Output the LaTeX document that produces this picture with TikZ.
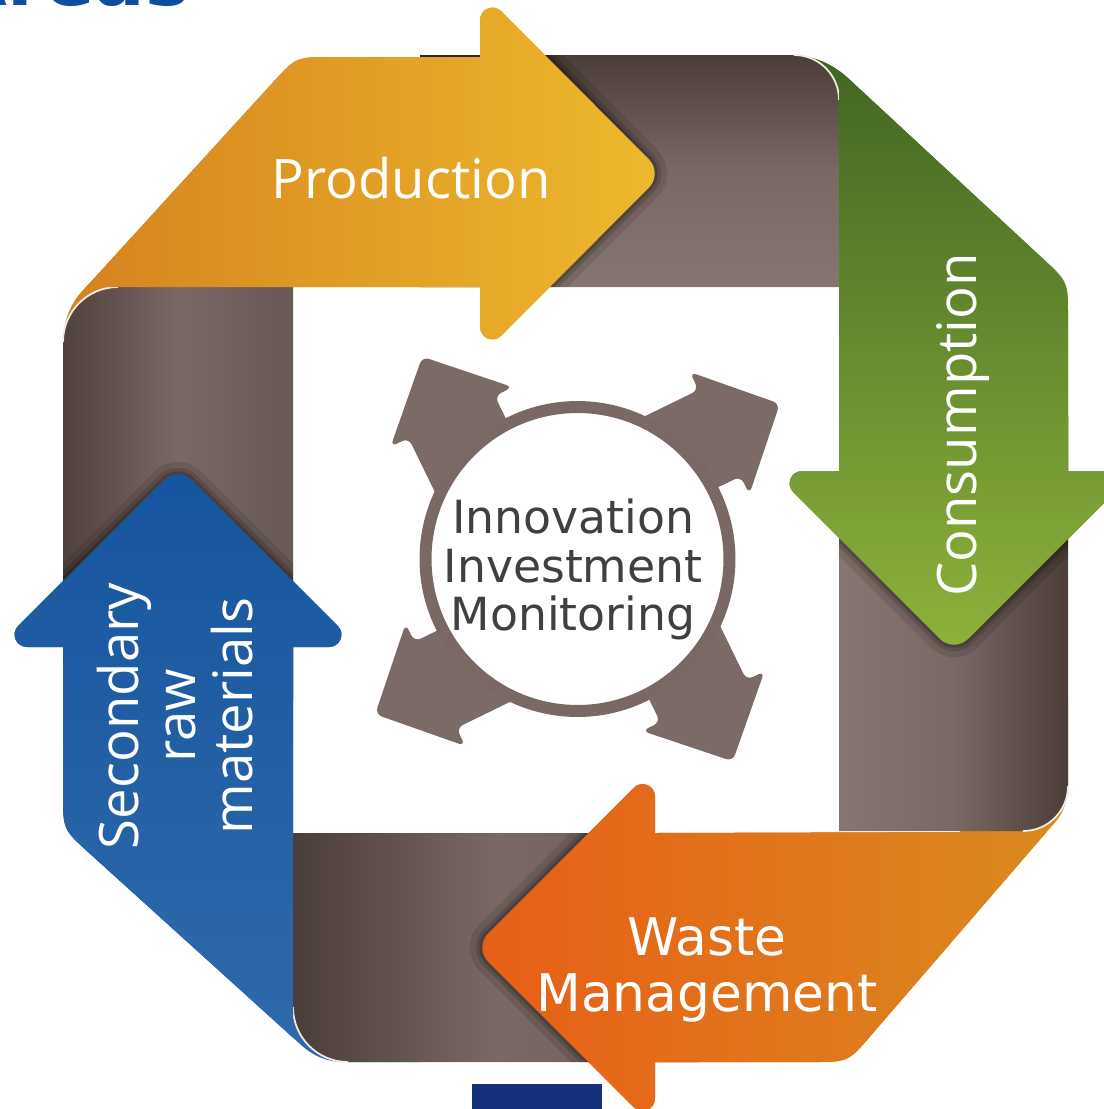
\documentclass[tikz,border=0pt]{standalone}
\usepackage{fontspec}
\newfontfamily\osans{Open Sans}
\newfontfamily\dvsans{DejaVu Sans}
\usetikzlibrary{calc}
\definecolor{brD}{HTML}{4B3D38}
\definecolor{brM}{HTML}{7A6864}
\definecolor{brL}{HTML}{877571}
\definecolor{hubcol}{HTML}{7C6A67}
\definecolor{ringcol}{HTML}{7A6865}
\definecolor{txtgray}{HTML}{404040}
\definecolor{headblue}{HTML}{0D4F9F}
\definecolor{footblue}{HTML}{15307A}
\definecolor{hilite}{HTML}{F2ECE6}
\definecolor{prL}{HTML}{D5821E}
\definecolor{prR}{HTML}{EDB92C}
\definecolor{grTop}{HTML}{426524}
\definecolor{grBot}{HTML}{8DB23A}
\definecolor{orL}{HTML}{E85E17}
\definecolor{orR}{HTML}{D98B1F}
\definecolor{blTop}{HTML}{16559F}
\definecolor{blBot}{HTML}{2F6AAA}
\def\bandT{(420,287) -- (420,55) -- (794,55) .. controls (818.9,55) and (839,75.1) .. (839,100) -- (839,287) -- cycle}
\def\bandR{(839,415) -- (1068,415) -- (1068,786) .. controls (1068,810.9) and (1047.9,831) .. (1023,831) -- (839,831) -- cycle}
\def\bandB{(700,833) -- (700,1062) -- (348,1062) .. controls (317.6,1062) and (293,1037.4) .. (293,1007) -- (293,833) -- cycle}
\def\bandL{(293,700) -- (63,700) -- (63,342) .. controls (63,311.6) and (87.6,287) .. (118,287) -- (293,287) -- cycle}
\def\pathProd{(63,345) .. controls (63,318) and (72,300) .. (88,285) -- (272.4,82.9) .. controls (296,57) .. (331,57) -- (480,57)
 -- (480,20) .. controls ($(480,20)!0.37!(480,-10)$) and ($(501.2,11.2)!0.37!(480,-10)$) .. (501.2,11.2)
 -- (648.9,159.3) .. controls ($(648.9,159.3)!0.55!(663,173.5)$) and ($(648.9,187.7)!0.55!(663,173.5)$) .. (648.9,187.7)
 -- (501.2,335.8) .. controls ($(501.2,335.8)!0.37!(480,357)$) and ($(480,327)!0.37!(480,357)$) .. (480,327)
 -- (480,287) -- (200,287) -- (200,420) -- (63,420) -- cycle}
\def\pathCons{(788,55) .. controls (818,55) and (835,66) .. (850,80) -- (1042.3,258.1) .. controls (1068,281.9) .. (1068,316.9) -- (1068,471)
 -- (1106,471) .. controls ($(1106,471)!0.37!(1136,471)$) and ($(1114.8,492.2)!0.37!(1136,471)$) .. (1114.8,492.2)
 -- (968.1,638.9) .. controls ($(968.1,638.9)!0.55!(954,653)$) and ($(939.9,638.9)!0.55!(954,653)$) .. (939.9,638.9)
 -- (793.2,492.2) .. controls ($(793.2,492.2)!0.37!(772,471)$) and ($(802,471)!0.37!(772,471)$) .. (802,471)
 -- (839,471) -- (839,250) -- (760,250) -- (760,55) -- cycle}
\def\pathWaste{(655,833)
 -- (655,796.5) .. controls ($(655,796.5)!0.37!(655,766.5)$) and ($(633.8,787.7)!0.37!(655,766.5)$) .. (633.8,787.7)
 -- (488.1,933.4) .. controls ($(488.1,933.4)!0.55!(474,947.5)$) and ($(488.1,961.6)!0.55!(474,947.5)$) .. (488.1,961.6)
 -- (633.8,1107.3) .. controls ($(633.8,1107.3)!0.37!(655,1128.5)$) and ($(655,1098.5)!0.37!(655,1128.5)$) .. (655,1098.5)
 -- (655,1062) -- (813,1062) .. controls (848,1062) .. (870.9,1035.5) -- (1050,828) .. controls (1066,812) and (1069,798) .. (1068,770) -- (1068,700) -- (960,700) -- (960,832) -- cycle}
\def\pathSec{(293,647)
 -- (329,647) .. controls ($(329,647)!0.37!(359,647)$) and ($(337.8,625.8)!0.37!(359,647)$) .. (337.8,625.8)
 -- (192.1,480.1) .. controls ($(192.1,480.1)!0.55!(178,466)$) and ($(163.9,480.1)!0.55!(178,466)$) .. (163.9,480.1)
 -- (18.2,625.8) .. controls ($(18.2,625.8)!0.37!(-3,647)$) and ($(27,647)!0.37!(-3,647)$) .. (27,647)
 -- (63,647) -- (63,794.3) .. controls (63,829.3) .. (88.9,852.8) -- (300,1044) .. controls (312,1055) and (325,1062) .. (345,1062) -- (420,1062) -- (420,950) -- (293,950) -- cycle}
\begin{document}
\begin{tikzpicture}[x=0.02cm,y=-0.02cm,
  fprod/.style={left color=prL,right color=prR},
  fcons/.style={top color=grTop,bottom color=grBot},
  fwaste/.style={left color=orL,right color=orR},
  fsec/.style={top color=blTop,bottom color=blBot},
  shdA/.style={draw=black,opacity=0.10,line width=0.5cm},
  shdB/.style={draw=black,opacity=0.14,line width=0.26cm},
  shdC/.style={draw=black,opacity=0.18,line width=0.12cm},
  hilight/.style={draw=hilite,line width=0.035cm},
  hubarrow/.style={fill=hubcol,rounded corners=0.14cm},
  lbl/.style={text=white,inner sep=0pt},
]
\useasboundingbox (0,0) rectangle (1104,1109);
\clip (0,0) rectangle (1104,1109);
% ---- colored arrows, full (their folds stay under the bands)
\shade[fprod] \pathProd;
\shade[fcons] \pathCons;
\shade[fwaste] \pathWaste;
\shade[fsec] \pathSec;
% ---- brown bands
\shade[top color=brD,bottom color=brL,middle color=brM] \bandT;
\shade[left color=brL,right color=brD,middle color=brM] \bandR;
\shade[left color=brD,right color=brM!90!black,middle color=brM] \bandB;
\shade[left color=brD!90!brM,right color=brM!85!black,middle color=brM] \bandL;
% ---- fold highlights
\draw[hilight] (794,55) .. controls (818.9,55) and (839,75.1) .. (839,100);
\draw[hilight] (1068,786) .. controls (1068,810.9) and (1047.9,831) .. (1023,831);
\draw[hilight] (348,1062) .. controls (317.6,1062) and (293,1037.4) .. (293,1007);
\draw[hilight] (63,342) .. controls (63,311.6) and (87.6,287) .. (118,287);
% ---- shadows of the heads on the bands
\begin{scope}\clip \bandT; \draw[shdA] \pathProd; \draw[shdB] \pathProd; \draw[shdC] \pathProd; \end{scope}
\begin{scope}\clip \bandR; \draw[shdA] \pathCons; \draw[shdB] \pathCons; \draw[shdC] \pathCons; \end{scope}
\begin{scope}\clip \bandB; \draw[shdA] \pathWaste; \draw[shdB] \pathWaste; \draw[shdC] \pathWaste; \end{scope}
\begin{scope}\clip \bandL; \draw[shdA] \pathSec; \draw[shdB] \pathSec; \draw[shdC] \pathSec; \end{scope}
% ---- colored arrows again, above the bands they point into
\begin{scope}\clip (293,287) -- (-50,287) -- (-50,-50) -- (1200,-50) -- (1200,1200) -- (293,1200) -- cycle;
\shade[fprod] \pathProd; \end{scope}
\begin{scope}\clip (839,287) -- (839,-50) -- (1200,-50) -- (1200,1200) -- (-50,1200) -- (-50,287) -- cycle;
\shade[fcons] \pathCons; \end{scope}
\begin{scope}\clip (839,832) -- (839,-50) -- (-50,-50) -- (-50,1200) -- (1200,1200) -- (1200,832) -- cycle;
\shade[fwaste] \pathWaste; \end{scope}
\begin{scope}\clip (293,833) -- (1200,833) -- (1200,-50) -- (-50,-50) -- (-50,1200) -- (293,1200) -- cycle;
\shade[fsec] \pathSec; \end{scope}
% ---- hub
\coordinate (hubc) at (577.5,559);
\foreach \k in {0,1,2,3}{
  \pgfmathsetmacro{\ta}{-37.5-90*\k}
  \pgfmathsetmacro{\tb}{\ta+11.5}
  \pgfmathsetmacro{\tc}{\tb+180}
  \pgfmathsetmacro{\tp}{\tb+90}
  \pgfmathsetmacro{\tm}{\tb-90}
  \coordinate (hubtip\k) at ($(hubc)+(\ta:255)$);
  \fill[hubarrow] (hubtip\k) -- ($(hubtip\k)+(\tc:67)+(\tp:68)$) -- ($(hubtip\k)+(\tc:67)+(\tp:48)$)
     -- ($(hubtip\k)+(\tc:250)+(\tp:48)$) -- ($(hubtip\k)+(\tc:250)+(\tm:48)$)
     -- ($(hubtip\k)+(\tc:67)+(\tm:48)$) -- ($(hubtip\k)+(\tc:67)+(\tm:68)$) -- cycle;
}
\node (hub) [circle,draw=ringcol,line width=0.24cm,fill=white,minimum size=6.08cm,inner sep=0pt] at (hubc) {};
\node (hubtext) [align=center,text=txtgray,inner sep=0pt,font=\dvsans\fontsize{26}{27.5}\selectfont] at (573,569.5) {Innovation\\Investment\\Monitoring};
% ---- labels
\node (lprod) [lbl,anchor=base,font=\osans\fontsize{31}{33}\selectfont] at (411,198) {Production};
\node (lcons) [lbl,anchor=base,rotate=90,font=\osans\fontsize{31}{33}\selectfont] at (976,425) {Consumption};
\node (lsec) [lbl,align=center,rotate=90,font=\osans\fontsize{31}{32.3}\selectfont] at (175,716) {Secondary\\raw\\materials};
\node (lwaste) [lbl,align=center,font=\dvsans\fontsize{29.5}{32.3}\selectfont] at (707,970) {Waste\\Management};
% ---- fragments at the edges
\node (title) [anchor=base east,text=headblue,inner sep=0pt,font=\dvsans\bfseries\fontsize{42.5}{44}\selectfont] at (190,5) {Areas};
\fill[footblue] (472,1084) rectangle (602,1109);
\end{tikzpicture}
\end{document}
